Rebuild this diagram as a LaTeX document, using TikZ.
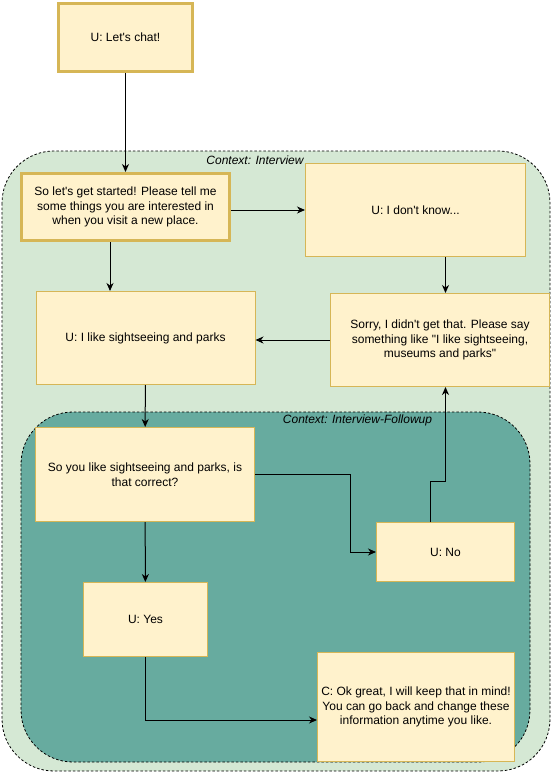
\documentclass[tikz,border=0pt]{standalone}
\usepackage{fontspec}
\setmainfont{Liberation Sans}[Ligatures=TeXOff]
\usepackage{xcolor}
\usetikzlibrary{arrows.meta}
\definecolor{notefill}{HTML}{FFF2CC}
\definecolor{noteline}{HTML}{D6B656}
\definecolor{ctxouter}{HTML}{D5E8D4}
\definecolor{ctxinner}{HTML}{67AB9F}

\begin{document}
\begin{tikzpicture}[x=1pt,y=-1pt,
  msg/.style={draw=noteline,fill=notefill,line width=1pt,align=center,inner sep=2pt,
    font=\fontsize{12}{14.5}\selectfont},
  msgthick/.style={msg,line width=3pt},
  ctx/.style={draw,dashed,dash pattern=on 2.5pt off 2pt,line width=0.8pt,rounded corners=52pt},
  ctxlabel/.style={font=\fontsize{12}{14}\selectfont\itshape,inner sep=0pt},
  flow/.style={line width=1pt,-{Stealth[length=8pt,width=7pt,inset=2.5pt]}}]
\useasboundingbox (0,0) rectangle (551,773);
\draw[ctx,fill=ctxouter] (2,151) rectangle (550,771);
\node[ctxlabel] (interviewlabel) at (255,160) {Context: Interview};
\draw[ctx,fill=ctxinner] (21,412) rectangle (530,762);
\node[ctxlabel] (followuplabel) at (357.5,420) {Context: Interview-Followup};

\node[msgthick,minimum width=134pt,minimum height=68pt] (start) at (125.5,37.5) {U: Let's chat!};
\node[msgthick,minimum width=208pt,minimum height=67pt] (chat) at (125.5,207) {So let's get started! Please tell me\\some things you are interested in\\when you visit a new place.};
\node[msg,minimum width=220pt,minimum height=93pt] (dunno) at (415.5,210) {U: I don't know...};
\node[msg,minimum width=219pt,minimum height=93pt] (sorry) at (440,340) {Sorry, I didn't get that. Please say\\something like "I like sightseeing,\\museums and parks"};
\node[msg,minimum width=219pt,minimum height=93pt] (like) at (145.5,338) {U: I like sightseeing and parks};
\node[msg,minimum width=219pt,minimum height=94pt] (yousure) at (145,474.5) {So you like sightseeing and parks, is\\that correct?};
\node[msg,minimum width=138pt,minimum height=59pt] (no) at (445.5,552) {U: No};
\node[msg,minimum width=124pt,minimum height=74pt] (yes) at (145.5,619.5) {U: Yes};
\node[msg,minimum width=197pt,minimum height=109pt] (done) at (416,707) {C: Ok great, I will keep that in mind!\\You can go back and change these\\information anytime you like.};

\coordinate (bend) at (445.5,481);
\draw[flow] (start) -- (chat);
\draw[flow] (chat.east |- dunno.west) -- (dunno.west);
\draw[flow] ([xshift=-15.5pt]chat.south) -- ([xshift=-15.5pt]chat.south |- like.north);
\draw[flow] ([xshift=5.5pt]sorry.north |- dunno.south) -- ([xshift=5.5pt]sorry.north);
\draw[flow] (sorry.west) -- (like.east |- sorry.west);
\draw[flow] (like) -- (yousure);
\draw[flow] (yousure.east) -- ++(95,0) |- (no.west);
\draw[flow] ([xshift=-15.5pt]no.north) |- (bend) -- (bend |- sorry.south);
\draw[flow] (yousure) -- (yes);
\draw[flow] (yes.south) |- ([yshift=-13pt]done.west);
\end{tikzpicture}
\end{document}
